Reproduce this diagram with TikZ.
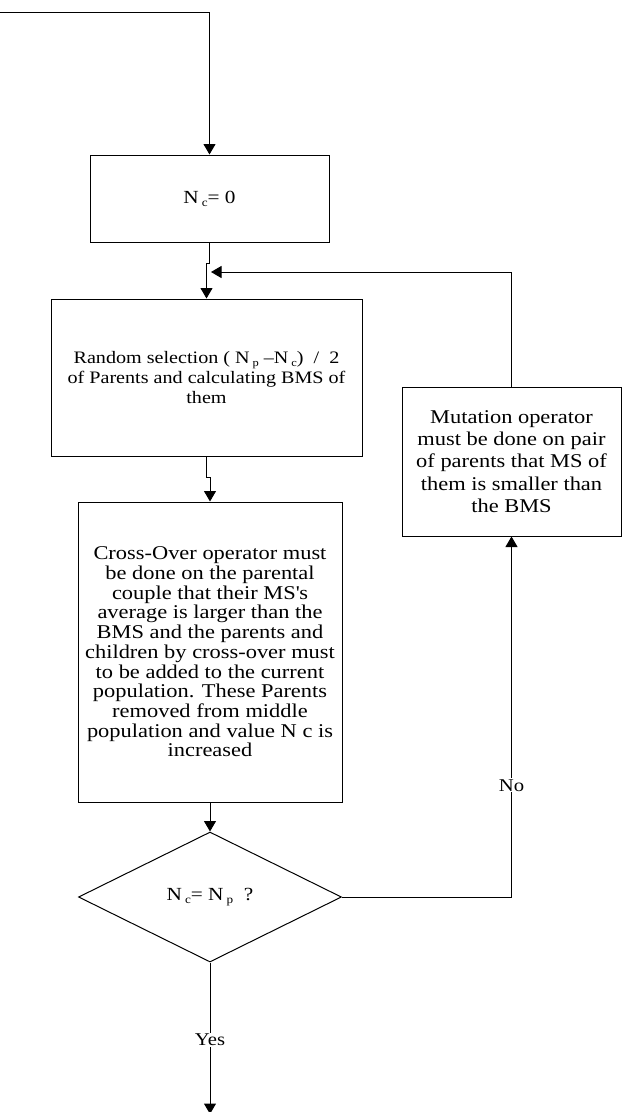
\documentclass[tikz,border=0pt]{standalone}
\usepackage{fontspec}
\setmainfont{Liberation Serif}[FakeStretch=1.15]
\usetikzlibrary{arrows.meta,shapes.geometric}
\newcommand\lsub[1]{\,\raisebox{-0.35ex}{\scalebox{0.62}{#1}}}
\tikzset{
  box/.style={draw=black, line width=1pt, rectangle, inner sep=0pt, align=center},
  dec/.style={draw=black, line width=1pt, diamond, inner sep=0pt, shape aspect=2.02, minimum width=263pt, minimum height=130pt},
  conn/.style={line width=1pt, draw=black},
  arr/.style={conn, -{Triangle[length=10.5pt,width=12pt]}},
  lbl/.style={fill=white, inner sep=1pt, font=\fontsize{18}{20}\selectfont}
}
\begin{document}
\begin{tikzpicture}[x=1pt,y=-1pt]
\useasboundingbox[fill=white] (0,0) rectangle (625,1112);
\node[box, minimum width=239pt, minimum height=87pt, font=\fontsize{18.5}{20}\selectfont] (b1) at (209.5,198.5) {N\lsub{c}= 0};
\node[box, minimum width=311pt, minimum height=157pt, font=\fontsize{17.5}{20}\selectfont] (b2) at (206.5,377.5)
  {Random selection ( N\lsub{p} --N\lsub{c}) \ / \ 2\\of Parents and calculating BMS of\\them};
\node[box, minimum width=264pt, minimum height=300pt, font=\fontsize{19.5}{19.7}\selectfont] (b3) at (210,652)
  {Cross-Over operator must\\be done on the parental\\couple that their MS\textquotesingle s\\average is larger than the\\BMS and the parents and\\children by cross-over must\\to be added to the current\\population. These Parents\\removed from middle\\population and value N c is\\increased};
\node[box, minimum width=219pt, minimum height=149pt, font=\fontsize{19.5}{22.3}\selectfont] (b4) at (511.5,461.5)
  {Mutation operator\\must be done on pair\\of parents that MS of\\them is smaller than\\the BMS};
\node[dec, font=\fontsize{18.5}{20}\selectfont] (d) at (210,897) {N\lsub{c}= N\lsub{p} \ ?};
\coordinate (s) at (0,12);
\coordinate (m) at (211,272);
\coordinate (e) at (210,1114);
\draw[arr] (s) -| (b1.north);
\draw[arr] (b1.south) -- ++(0,21) -| (b2.north);
\draw[arr] (b4.north) |- (m);
\draw[arr] (b2.south) -- ++(0,21) -| (b3.north);
\draw[arr] (b3.south) -- (d.north);
\draw[arr] (d.east) -| (b4.south) node[lbl, pos=0.655] (no) {No};
\draw[arr] (d.south) -- (e) node[lbl, pos=0.51] (yes) {Yes};
\end{tikzpicture}
\end{document}
